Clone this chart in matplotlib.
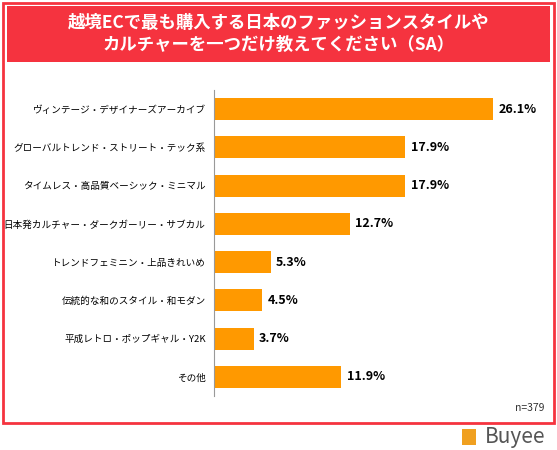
import matplotlib
matplotlib.use("Agg")
import matplotlib.pyplot as plt
from matplotlib.patches import Rectangle

plt.rcParams['font.family'] = ['Noto Sans CJK JP', 'DejaVu Sans']

categories = ["ヴィンテージ・デザイナーズアーカイブ", "グローバルトレンド・ストリート・テック系",
              "タイムレス・高品質ベーシック・ミニマル", "日本発カルチャー・ダークガーリー・サブカル",
              "トレンドフェミニン・上品きれいめ", "伝統的な和のスタイル・和モダン",
              "平成レトロ・ポップギャル・Y2K", "その他"]
values = [26.1, 17.9, 17.9, 12.7, 5.3, 4.5, 3.7, 11.9]
title = "越境ECで最も購入する日本のファッションスタイルや\nカルチャーを一つだけ教えてください（SA）"

fig = plt.figure(figsize=(5.57, 4.5), dpi=100)
red = "#f5333f"
fig.patches.append(Rectangle((3/557, 1-423/450), 551/557, 420/450, transform=fig.transFigure,
                             fill=False, edgecolor=red, linewidth=2))
fig.patches.append(Rectangle((7/557, 1-62/450), 543/557, 56/450, transform=fig.transFigure,
                             facecolor=red, edgecolor="none"))
fig.text(0.5, 1-34/450, title, ha="center", va="center", color="white", fontsize=12.5,
         fontweight="bold", linespacing=1.3)

ax = fig.add_axes([214/557, 1-396/450, 0.5758, 306/450])
y = list(range(len(values)))
ax.barh(y, values, height=0.58, color="#ff9900")
ax.set_xlim(0, 30)
ax.set_ylim(7.5, -0.5)
ax.set_yticks(y)
ax.set_yticklabels(categories, fontsize=6.9)
ax.tick_params(axis="y", length=0, pad=6)
ax.set_xticks([])
for s in ["top", "right", "bottom"]:
    ax.spines[s].set_visible(False)
ax.spines["left"].set_color("#999999")
for yi, v in zip(y, values):
    ax.text(v + 0.5, yi, f"{v}%", va="center", ha="left", fontsize=9, fontweight="bold")

fig.text(545/557, 1-408/450, "n=379", ha="right", va="center", fontsize=7.5, color="#333333")
fig.text(545/557, 1-437/450, "Buyee", ha="right", va="center", fontsize=15, color="#555555")
fig.patches.append(Rectangle((462/557, 1-445/450), 14/557, 16/450, transform=fig.transFigure,
                             facecolor="#f0a020", edgecolor="none"))
fig.savefig("out.png", dpi=100)
